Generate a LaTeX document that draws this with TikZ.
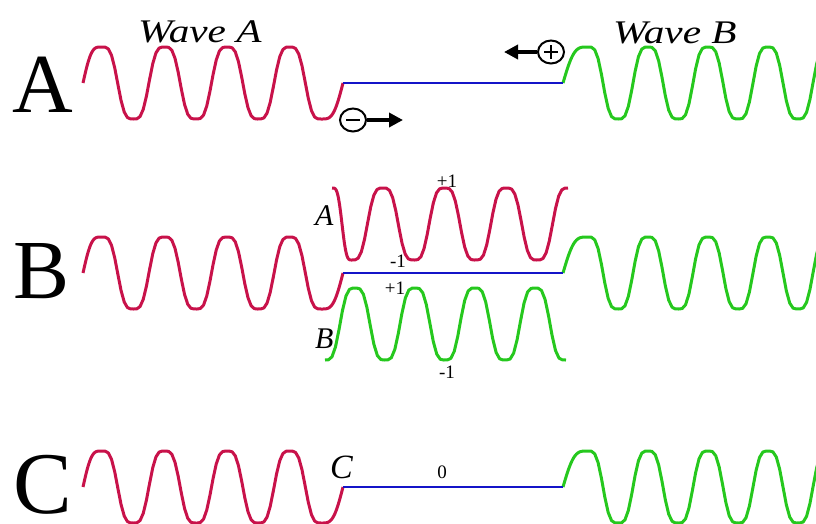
\documentclass[tikz,border=0pt]{standalone}
\usepackage{fontspec}
\setmainfont{Liberation Serif}
\usepackage{xcolor}
\usepackage{tikz}
\usetikzlibrary{arrows.meta,shapes.geometric}
\definecolor{wvRed}{HTML}{C8124A}
\definecolor{wvGreen}{HTML}{26C81E}
\definecolor{wvBlue}{HTML}{1414C8}
\tikzset{
  declare function={
    sq(\t)=1.125*(sin(\t)+sin(3*\t)/9);
    cq(\t)=1.125*(cos(\t)-cos(3*\t)/9);
  },
  redwave/.style={
    draw=wvRed,
    line width=3pt,
    line join=round,
    samples=70
  },
  greenwave/.style={
    draw=wvGreen,
    line width=3pt,
    line join=round,
    samples=70
  },
  bluestring/.style={draw=wvBlue, line width=2.6pt},
  bigletter/.style={
    font=\fontsize{84}{84}\selectfont,
    inner sep=0pt,
    anchor=base west
  },
  wavetitle/.style={
    font=\itshape\fontsize{33}{33}\selectfont,
    inner sep=0pt,
    anchor=base west
  },
  partlabel/.style={
    font=\itshape\fontsize{30}{30}\selectfont,
    inner sep=0pt,
    anchor=base west
  },
  valuelabel/.style={
    font=\fontsize{19}{19}\selectfont,
    inner sep=0pt,
    anchor=base
  },
  charge/.style={
    ellipse,
    draw,
    line width=2pt,
    minimum width=26pt,
    minimum height=23pt,
    inner sep=0pt
  },
  negcharge/.style={
    charge,
    path picture={\draw[line width=2.8pt]
      ([xshift=-7pt]path picture bounding box.center) --
      ([xshift=7pt]path picture bounding box.center);}
  },
  poscharge/.style={
    charge,
    path picture={\draw[line width=2.8pt]
      ([xshift=-7pt]path picture bounding box.center) --
      ([xshift=7pt]path picture bounding box.center)
      ([yshift=-7pt]path picture bounding box.center) --
      ([yshift=7pt]path picture bounding box.center);}
  },
  pusharrow/.style={-{Triangle[length=14pt,width=14pt]}, line width=3.6pt}
}

\begin{document}
\begin{tikzpicture}[x=1pt,y=-1pt]
  \clip (0,0) rectangle (816,523);

  \foreach \c/\r in {83/a,273/b,487/c}{
    \draw[redwave] plot[domain=83:102] (\x,{\c-36*sq((\x-83)/19*90)})
      -- plot[domain=102:321] (\x,{\c-36*cq((\x-102)/62.57*360)})
      -- plot[domain=321:343] (\x,{\c+36*cq((\x-321)/22*90)});
    \draw[greenwave] plot[domain=563:588] (\x,{\c-36*sq((\x-563)/25*90)})
      -- plot[domain=588:820] (\x,{\c-36*cq((\x-588)/60*360)});
    \coordinate (\r L) at (343,\c);
    \coordinate (\r R) at (563,\c);
    \draw[bluestring] (\r L) -- (\r R);
  }

  % the two pulses laid over the string in part B
  \draw[redwave] plot[domain=332:352] (\x,{224-36*cq((\x-332)/20*180)})
    -- plot[domain=352:568] (\x,{224+36*cq((\x-352)/61.71*360)});
  \draw[greenwave] plot[domain=325:566] (\x,{324-36*cq((\x-355)/60*360)});

  \node[bigletter] (partA) at (12,112) {A};
  \node[bigletter] (partB) at (13,298) {B};
  \node[bigletter, font=\fontsize{88}{88}\selectfont] (partC) at (13,513) {C};

  \node[wavetitle] (titleA) at (138,42) {\scalebox{1.25}[1]{Wave A}};
  \node[wavetitle] (titleB) at (613,43) {\scalebox{1.25}[1]{Wave B}};

  \node[negcharge] (minus) at (353,120) {};
  \coordinate (minusTip) at (403,120);
  \draw[pusharrow] (minus) -- (minusTip);
  \node[poscharge] (plus) at (551,52) {};
  \coordinate (plusTip) at (504,52);
  \draw[pusharrow] (plus) -- (plusTip);

  \node[partlabel] (labelA) at (315,225) {A};
  \node[partlabel] (labelB) at (315,348) {B};
  \node[partlabel, font=\itshape\fontsize{34}{34}\selectfont] (labelC) at (330,478) {C};

  \node[valuelabel] (topA) at (447,187) {+1};
  \node[valuelabel] (bottomA) at (398,267) {-1};
  \node[valuelabel] (topB) at (395,294) {+1};
  \node[valuelabel] (bottomB) at (447,378) {-1};
  \node[valuelabel] (zero) at (442,478) {0};
\end{tikzpicture}
\end{document}
